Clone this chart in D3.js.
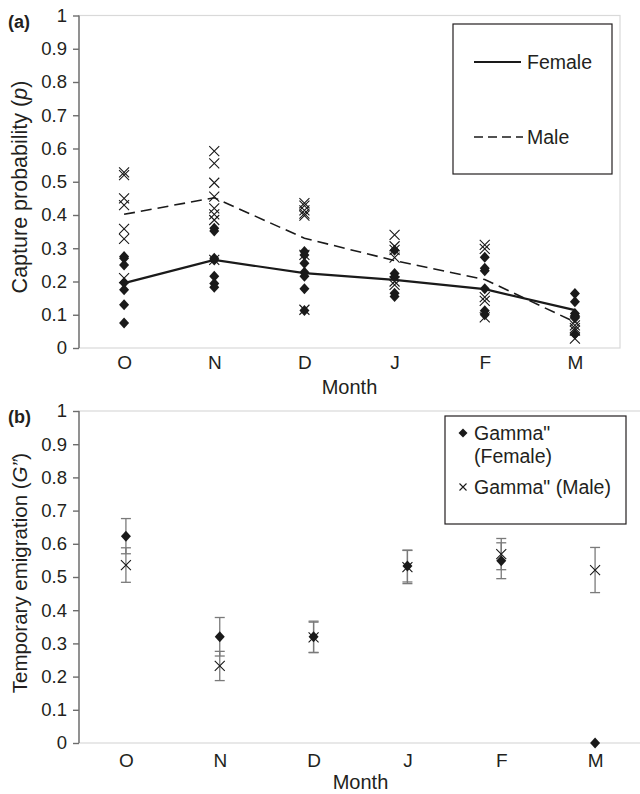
<!DOCTYPE html>
<html>
<head>
<meta charset="utf-8">
<script src="https://cdn.jsdelivr.net/npm/d3@7"></script>
<style>
  body { margin: 0; background: #fff; }
  svg text { font-family: "Liberation Sans", Arial, sans-serif; fill: #231f20; }
</style>
</head>
<body>
<script>
const months = ["O", "N", "D", "J", "F", "M"];
const yTicks = [0, 0.1, 0.2, 0.3, 0.4, 0.5, 0.6, 0.7, 0.8, 0.9, 1];

// panel (a): capture probability, one list per month
const femaleLine = [0.195, 0.265, 0.225, 0.205, 0.177, 0.114];
const maleLine = [0.402, 0.452, 0.33, 0.263, 0.206, 0.078];
const femaleP = [
  [0.275, 0.27, 0.25, 0.196, 0.175, 0.13, 0.075],
  [0.36, 0.352, 0.27, 0.265, 0.216, 0.194, 0.183],
  [0.29, 0.28, 0.255, 0.228, 0.216, 0.178, 0.113],
  [0.294, 0.224, 0.214, 0.165, 0.155],
  [0.273, 0.24, 0.232, 0.178, 0.112, 0.1],
  [0.164, 0.139, 0.104, 0.097, 0.09, 0.042]
];
const maleP = [
  [0.528, 0.52, 0.45, 0.43, 0.358, 0.328, 0.21],
  [0.592, 0.555, 0.497, 0.455, 0.42, 0.402, 0.385, 0.265],
  [0.436, 0.428, 0.414, 0.404, 0.398, 0.28, 0.115],
  [0.34, 0.306, 0.295, 0.272, 0.2, 0.19],
  [0.31, 0.298, 0.153, 0.142, 0.092],
  [0.08, 0.068, 0.06, 0.052, 0.028]
];

// panel (b): temporary emigration with error bars
const femaleG = [0.623, 0.32, 0.32, 0.533, 0.549, 0];
const femaleErr = [0.053, 0.058, 0.047, 0.048, 0.054, null];
const maleG = [0.536, 0.232, 0.318, 0.53, 0.569, 0.521];
const maleErr = [0.052, 0.044, 0.046, 0.05, 0.047, 0.068];

const svg = d3.select("body").append("svg")
  .attr("width", 640).attr("height", 794);

const diamond = "M0,-5.5L5,0L0,5.5L-5,0Z";
const cross = r => `M${-r},${-r}L${r},${r}M${r},${-r}L${-r},${r}`;

function frame(x, y, left, right, top, bottom, panel, ytitle, titleMid, titleSize, xlabY, monthY) {
  const g = svg.append("g");
  // light plot border
  g.append("rect")
    .attr("x", left).attr("y", top)
    .attr("width", right - left).attr("height", bottom - top)
    .attr("fill", "none").attr("stroke", "#d9d9d9").attr("stroke-width", 1.2);

  const ya = g.append("g")
    .attr("transform", `translate(${left},0)`)
    .call(d3.axisLeft(y).tickValues(yTicks).tickSize(6).tickPadding(6)
      .tickFormat(d => d === 0 ? "0" : d === 1 ? "1" : d3.format(".1f")(d)));
  ya.selectAll("path, line").attr("stroke", "#6d6d6d").attr("stroke-width", 1.4);
  ya.select(".domain").attr("d", `M0,${bottom}V${top}`);
  ya.selectAll("text").style("font-size", "18.5px").attr("fill", "#231f20");

  const xa = g.append("g")
    .attr("transform", `translate(0,${bottom})`)
    .call(d3.axisBottom(x).tickSize(0).tickPadding(0));
  xa.select(".domain").remove();
  xa.selectAll("text").attr("dy", null).attr("y", xlabY - bottom)
    .attr("dominant-baseline", "central").style("font-size", "19px").attr("fill", "#231f20");

  g.append("text")
    .attr("x", (left + right) / 2).attr("y", monthY)
    .attr("text-anchor", "middle").attr("dominant-baseline", "central")
    .style("font-size", "20px").text("Month");

  g.append("text")
    .attr("x", 8).attr("y", top + 12)
    .style("font-size", "18px").style("font-weight", "bold").text(panel);

  const yt = g.append("text")
    .attr("transform", `translate(27,${titleMid}) rotate(-90)`)
    .attr("text-anchor", "middle").style("font-size", titleSize);
  ytitle(yt);
  return g;
}

// ---------- panel (a)
const xa = d3.scalePoint().domain(months).range([79, 620]).padding(0.5);
const ya = d3.scaleLinear().domain([0, 1]).range([348, 15.5]);

const ga = frame(xa, ya, 79, 620, 15.5, 348, "(a)", t => {
  t.append("tspan").text("Capture probability (");
  t.append("tspan").style("font-style", "italic").text("p");
  t.append("tspan").text(")");
}, 187, "21.5px", 362, 387);

const fPts = femaleP.flatMap((vals, i) => vals.map(v => ({ m: months[i], v })));
const mPts = maleP.flatMap((vals, i) => vals.map(v => ({ m: months[i], v })));

ga.selectAll(".mp").data(mPts).join("path")
  .attr("transform", d => `translate(${xa(d.m)},${ya(d.v)})`)
  .attr("d", cross(5)).attr("stroke", "#1a1a1a").attr("stroke-width", 1.1).attr("fill", "none");
ga.selectAll(".fp").data(fPts).join("path")
  .attr("transform", d => `translate(${xa(d.m)},${ya(d.v)})`)
  .attr("d", diamond).attr("fill", "#1a1a1a");

const line = d3.line().x((d, i) => xa(months[i])).y(d => ya(d));
ga.append("path").datum(maleLine).attr("d", line)
  .attr("fill", "none").attr("stroke", "#1a1a1a").attr("stroke-width", 1.6)
  .attr("stroke-dasharray", "11,6");
ga.append("path").datum(femaleLine).attr("d", line)
  .attr("fill", "none").attr("stroke", "#1a1a1a").attr("stroke-width", 2.2);

// legend (a)
const la = ga.append("g");
la.append("rect").attr("x", 453).attr("y", 24).attr("width", 159).attr("height", 150)
  .attr("fill", "#fff").attr("stroke", "#231f20").attr("stroke-width", 1.2);
la.append("line").attr("x1", 474).attr("x2", 521).attr("y1", 62).attr("y2", 62)
  .attr("stroke", "#1a1a1a").attr("stroke-width", 2.2);
la.append("text").attr("x", 527).attr("y", 62).attr("dominant-baseline", "central")
  .style("font-size", "19.5px").text("Female");
la.append("line").attr("x1", 474).attr("x2", 523).attr("y1", 137).attr("y2", 137)
  .attr("stroke", "#1a1a1a").attr("stroke-width", 1.6).attr("stroke-dasharray", "9,5");
la.append("text").attr("x", 527).attr("y", 137).attr("dominant-baseline", "central")
  .style("font-size", "19.5px").text("Male");

// ---------- panel (b)
const xb = d3.scalePoint().domain(months).range([79, 642]).padding(0.5);
const yb = d3.scaleLinear().domain([0, 1]).range([743, 411]);

const gb = frame(xb, yb, 79, 642, 411, 743, "(b)", t => {
  t.append("tspan").text("Temporary emigration (");
  t.append("tspan").style("font-style", "italic").text("G\u201D");
  t.append("tspan").text(")");
}, 573, "20.5px", 760, 782);

function errBars(vals, errs) {
  const rows = vals.map((v, i) => ({ m: months[i], v, e: errs[i] })).filter(d => d.e != null);
  const eg = gb.append("g").attr("stroke", "#7a7a7a").attr("stroke-width", 1.3);
  eg.selectAll("line.v").data(rows).join("line")
    .attr("x1", d => xb(d.m)).attr("x2", d => xb(d.m))
    .attr("y1", d => yb(d.v - d.e)).attr("y2", d => yb(d.v + d.e));
  eg.selectAll("line.t").data(rows.flatMap(d => [d.v - d.e, d.v + d.e].map(c => ({ m: d.m, c }))))
    .join("line")
    .attr("x1", d => xb(d.m) - 5).attr("x2", d => xb(d.m) + 5)
    .attr("y1", d => yb(d.c)).attr("y2", d => yb(d.c));
}
errBars(femaleG, femaleErr);
errBars(maleG, maleErr);

gb.selectAll(".mg").data(maleG).join("path")
  .attr("transform", (d, i) => `translate(${xb(months[i])},${yb(d)})`)
  .attr("d", cross(5)).attr("stroke", "#1a1a1a").attr("stroke-width", 1.1).attr("fill", "none");
gb.selectAll(".fg").data(femaleG).join("path")
  .attr("transform", (d, i) => `translate(${xb(months[i])},${yb(d)})`)
  .attr("d", diamond).attr("fill", "#1a1a1a");

// legend (b)
const lb = gb.append("g");
lb.append("rect").attr("x", 445).attr("y", 416).attr("width", 181).attr("height", 108)
  .attr("fill", "#fff").attr("stroke", "#231f20").attr("stroke-width", 1.2);
lb.append("path").attr("transform", "translate(463,433)")
  .attr("d", "M0,-4.5L4.5,0L0,4.5L-4.5,0Z").attr("fill", "#1a1a1a");
lb.append("text").attr("x", 474).attr("y", 433).attr("dominant-baseline", "central")
  .style("font-size", "19.5px").text("Gamma\"");
lb.append("text").attr("x", 474).attr("y", 456).attr("dominant-baseline", "central")
  .style("font-size", "19.5px").text("(Female)");
lb.append("path").attr("transform", "translate(463,487)")
  .attr("d", cross(3.5)).attr("stroke", "#1a1a1a").attr("stroke-width", 1.1).attr("fill", "none");
lb.append("text").attr("x", 474).attr("y", 487).attr("dominant-baseline", "central")
  .style("font-size", "19.5px").text("Gamma\" (Male)");
</script>
</body>
</html>
